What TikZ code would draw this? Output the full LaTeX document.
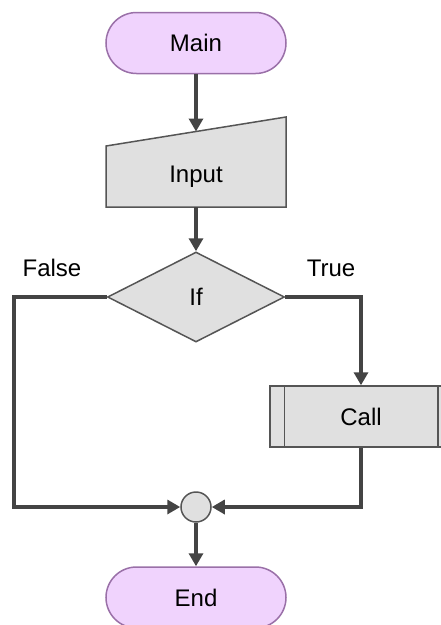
\documentclass[tikz,border=0pt]{standalone}
\usepackage{fontspec}
\setmainfont{Liberation Sans}
\usetikzlibrary{arrows.meta,shapes.geometric,backgrounds}
\definecolor{pill}{HTML}{F0D3FD}
\definecolor{pillline}{HTML}{9A70A8}
\definecolor{boxfill}{HTML}{E0E0E0}
\definecolor{boxline}{HTML}{555555}
\definecolor{wire}{HTML}{444444}

\begin{document}
\begin{tikzpicture}[->,>={Triangle[width=14pt,length=13pt]},line width=4pt,draw=wire,
                    node distance=133.5pt,font=\fontsize{24}{29}\selectfont,
                    term/.style={draw=pillline,fill=pill,line width=1.5pt,rounded corners=30.5pt,
                                 minimum width=180pt,minimum height=61pt},
                    inbox/.style={outer sep=0pt,minimum width=180pt,minimum height=61pt},
                    callbox/.style={draw=boxline,fill=boxfill,line width=1.5pt,
                                    minimum width=182pt,minimum height=61pt},
                    decide/.style={diamond,draw=boxline,fill=boxfill,line width=1.5pt,inner sep=0pt,
                                   minimum width=177pt,minimum height=90pt},
                    junc/.style={circle,draw=boxline,fill=boxfill,line width=1.5pt,inner sep=0pt,
                                 minimum size=30pt}]

  \useasboundingbox (0,0) rectangle (441pt,-625pt);

  	\node[term](A) at (196pt,-43pt)             	{Main};
  	\node[inbox](B) [below of=A]               	{Input};
	\node[decide](C) [below of=B,node distance=120.5pt] {If};
	\node[callbox](D) at (361pt,-416.5pt)       	{Call};
	\node[junc](E) [below of=C,node distance=210pt]   {};
	\node[term](F) [below of=E,node distance=90.5pt]  {End};
	\node (G) at (52pt,-268pt)                  	{False};
	\node (T) at (331pt,-268pt)                 	{True};

	\begin{scope}[on background layer]
	\draw[-,line width=1.5pt,draw=boxline,fill=boxfill] (B.south west) -- (B.south east)
	      -- ([yshift=29pt]B.north east) -- (B.north west) -- cycle;
	\end{scope}
	\draw[-,line width=1.5pt,draw=boxline] ([xshift=15pt]D.north west) -- ([xshift=15pt]D.south west);
	\draw[-,line width=1.5pt,draw=boxline] ([xshift=-15pt]D.north east) -- ([xshift=-15pt]D.south east);

	\coordinate (Bt) at ([yshift=14.5pt]B.north);
	\draw (A) -- (Bt);
	\draw (B) -- (C);
	\draw (C.west) -- ++(-93pt,0) |- (E);
	\draw (C.east) -| (D);
	\draw (D) |- (E);
	\draw (E) -- (F);

\end{tikzpicture}
\end{document}
